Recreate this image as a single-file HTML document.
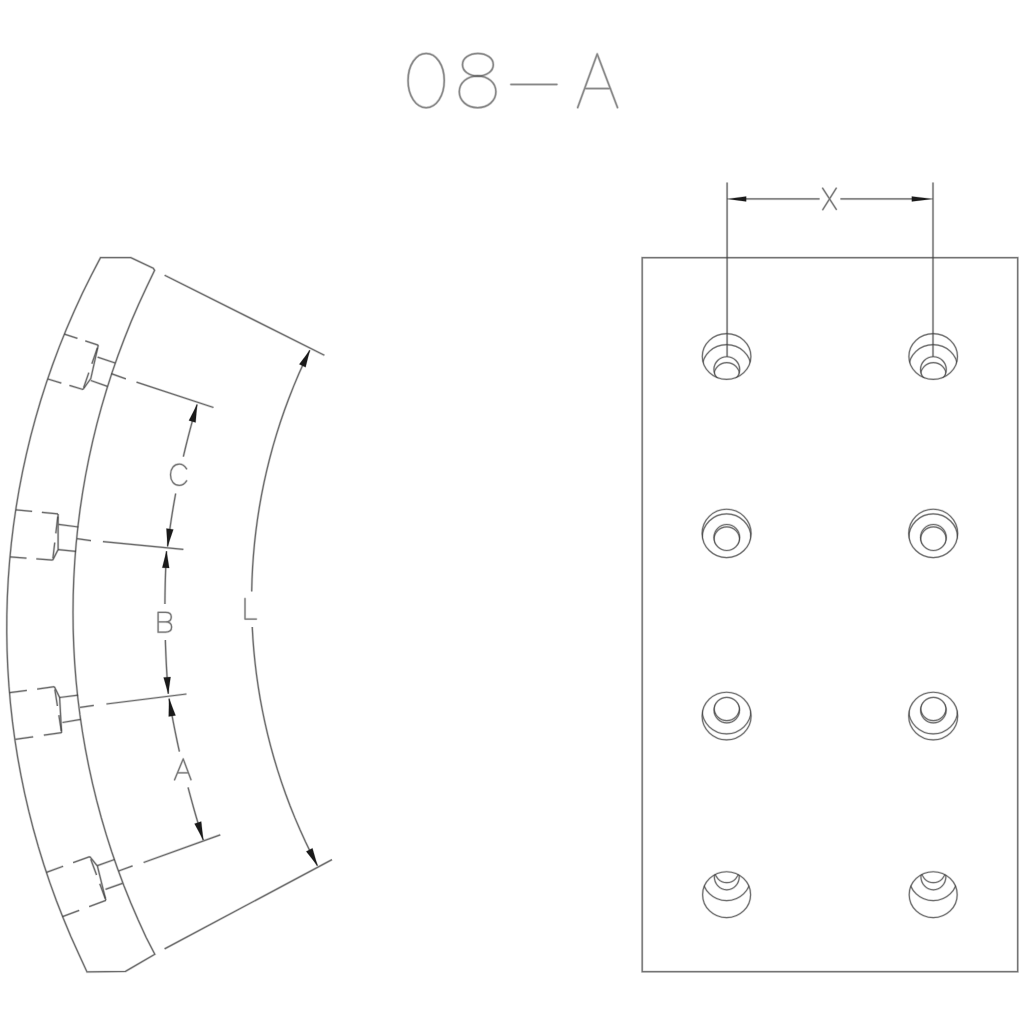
<!DOCTYPE html>
<html><head><meta charset="utf-8"><title>08-A</title>
<style>
html,body{margin:0;padding:0;background:#fff;font-family:"Liberation Sans",sans-serif;}
svg{display:block;}
</style></head>
<body>
<svg width="1024" height="1024" viewBox="0 0 1024 1024">
<rect x="0" y="0" width="1024" height="1024" fill="#ffffff" stroke="none"/>
<g fill="none" stroke="#4a4a4a" stroke-opacity="0.2" stroke-width="2.8" stroke-linecap="round" stroke-linejoin="round">
<path d="M408.05,80.55 C408.05,65.24 415.92,53.45 426.15,53.45 C436.38,53.45 444.25,65.24 444.25,80.55 C444.25,95.86 436.38,107.65 426.15,107.65 C415.92,107.65 408.05,95.86 408.05,80.55 Z"/>
<path d="M462.50,64.70 C462.50,58.26 469.12,53.40 477.90,53.40 C486.68,53.40 493.30,58.26 493.30,64.70 C493.30,71.14 486.68,76.00 477.90,76.00 C469.12,76.00 462.50,71.14 462.50,64.70 Z"/>
<path d="M459.30,91.85 C459.30,82.82 467.17,76.00 477.60,76.00 C488.03,76.00 495.90,82.82 495.90,91.85 C495.90,100.88 488.03,107.70 477.60,107.70 C467.17,107.70 459.30,100.88 459.30,91.85 Z"/>
<path d="M511.0,84.4 H556.8"/>
<path d="M577.7,107.6 L597.2,53.9 L617.5,107.6 M584.6,88.6 H610.5"/>
</g>
<g fill="none" stroke="#4a4a4a" stroke-opacity="0.58" stroke-width="1.5" stroke-linecap="round" stroke-linejoin="round">
<path d="M408.05,80.55 C408.05,65.24 415.92,53.45 426.15,53.45 C436.38,53.45 444.25,65.24 444.25,80.55 C444.25,95.86 436.38,107.65 426.15,107.65 C415.92,107.65 408.05,95.86 408.05,80.55 Z"/>
<path d="M462.50,64.70 C462.50,58.26 469.12,53.40 477.90,53.40 C486.68,53.40 493.30,58.26 493.30,64.70 C493.30,71.14 486.68,76.00 477.90,76.00 C469.12,76.00 462.50,71.14 462.50,64.70 Z"/>
<path d="M459.30,91.85 C459.30,82.82 467.17,76.00 477.60,76.00 C488.03,76.00 495.90,82.82 495.90,91.85 C495.90,100.88 488.03,107.70 477.60,107.70 C467.17,107.70 459.30,100.88 459.30,91.85 Z"/>
<path d="M511.0,84.4 H556.8"/>
<path d="M577.7,107.6 L597.2,53.9 L617.5,107.6 M584.6,88.6 H610.5"/>
</g>
<g fill="none" stroke="#404040" stroke-opacity="0.2" stroke-width="2.5" stroke-linecap="butt" stroke-linejoin="miter">
<path d="M100.50,257.60 L130.80,257.60 L153.30,268.30 L154.60,270.30 L146.41,287.40 L138.54,304.50 L131.17,321.60 L124.30,338.70 L117.90,355.80 L111.96,372.90 L106.48,390.00 L101.44,407.10 L96.83,424.20 L92.65,441.30 L88.89,458.40 L85.54,475.50 L82.59,492.60 L80.04,509.70 L77.89,526.80 L76.14,543.90 L74.78,561.00 L73.80,578.10 L73.21,595.20 L73.01,612.30 L73.19,629.40 L73.77,646.50 L74.72,663.60 L76.07,680.70 L77.81,697.80 L79.94,714.90 L82.47,732.00 L85.40,749.10 L88.73,766.20 L92.48,783.30 L96.64,800.40 L101.23,817.50 L106.25,834.60 L111.71,851.70 L117.62,868.80 L124.00,885.90 L130.85,903.00 L138.20,920.10 L146.05,937.20 L154.80,954.30 L125.50,971.40 L87.00,971.90 L78.76,954.04 L70.75,936.18 L63.27,918.33 L56.31,900.47 L49.85,882.61 L43.88,864.75 L38.38,846.90 L33.35,829.04 L28.78,811.18 L24.65,793.33 L20.97,775.47 L17.71,757.61 L14.89,739.75 L12.49,721.89 L10.52,704.04 L8.96,686.18 L7.81,668.32 L7.08,650.46 L6.76,632.61 L6.85,614.75 L7.35,596.89 L8.26,579.04 L9.58,561.18 L11.33,543.32 L13.49,525.46 L16.07,507.61 L19.07,489.75 L22.51,471.89 L26.39,454.03 L30.71,436.18 L35.48,418.32 L40.71,400.46 L46.41,382.60 L52.60,364.75 L59.27,346.89 L66.46,329.03 L74.16,311.17 L82.41,293.31 L91.21,275.46 L100.50,257.60 Z"/>
<path d="M164.6,275.2 L324.4,355.3"/>
<path d="M164.6,948.9 L332,859.6"/>
<path d="M309.80,350.20 L304.05,362.26 L298.64,374.32 L293.57,386.38 L288.82,398.44 L284.38,410.50 L280.24,422.56 L276.41,434.62 L272.87,446.68 L269.62,458.74 L266.65,470.80 L263.95,482.86 L261.53,494.92 L259.39,506.98 L257.50,519.04 L255.89,531.10 L254.53,543.16 L253.44,555.22 L252.60,567.28 L252.02,579.34 L251.70,591.40"/>
<path d="M252.25,627.00 L252.93,638.93 L253.87,650.86 L255.06,662.79 L256.51,674.72 L258.21,686.65 L260.17,698.58 L262.40,710.51 L264.89,722.44 L267.65,734.37 L270.69,746.30 L274.00,758.23 L277.59,770.16 L281.48,782.09 L285.65,794.02 L290.13,805.95 L294.92,817.88 L300.03,829.81 L305.47,841.74 L311.24,853.67 L317.37,865.60"/>
<path d="M197.10,404.50 L195.57,409.72 L194.08,414.94 L192.62,420.16 L191.19,425.38 L189.79,430.60 L188.43,435.82 L187.11,441.04 L185.82,446.26 L184.56,451.48 L183.33,456.70"/>
<path d="M175.67,493.50 L174.70,498.79 L173.77,504.08 L172.88,509.37 L172.02,514.66 L171.20,519.95 L170.41,525.24 L169.65,530.53 L168.93,535.82 L168.25,541.11 L167.60,546.40"/>
<path d="M166.50,551.30 L166.23,556.58 L165.98,561.86 L165.76,567.14 L165.56,572.42 L165.39,577.70 L165.24,582.98 L165.13,588.26 L165.03,593.54 L164.97,598.82 L164.93,604.10"/>
<path d="M165.36,640.10 L165.53,645.47 L165.73,650.84 L165.95,656.21 L166.20,661.58 L166.48,666.95 L166.79,672.32 L167.12,677.69 L167.48,683.06 L167.87,688.43 L168.28,693.80"/>
<path d="M169.06,698.60 L169.96,703.90 L170.90,709.20 L171.86,714.50 L172.85,719.80 L173.87,725.10 L174.92,730.40 L175.99,735.70 L177.10,741.00 L178.24,746.30 L179.41,751.60"/>
<path d="M188.06,787.40 L189.45,792.67 L190.87,797.94 L192.31,803.21 L193.79,808.48 L195.29,813.75 L196.83,819.02 L198.39,824.29 L199.98,829.56 L201.60,834.83 L203.25,840.10"/>
<path d="M64.4,334.1 L98.3,345.2" stroke-dasharray="13.73 8.20"/>
<path d="M47.8,379 L83,389.5" stroke-dasharray="14.14 8.45"/>
<path d="M98.30,345.20 L90.80,378.60 L83.00,389.50"/>
<path d="M98.3,345.2 L83,389.5" stroke-dasharray="0 2.81 16.87 9.37 15.94 46.87"/>
<path d="M97.60,357.10 L115.20,363.00"/>
<path d="M90.80,380.50 L107.40,386.40"/>
<path d="M111.3,373.7 L125.9,378.9 M136.5,382.1 L213.5,407.5"/>
<path d="M15.9,509.8 L58.1,513.9" stroke-dasharray="16.32 9.75"/>
<path d="M10.1,556.9 L52.7,560.1" stroke-dasharray="16.45 9.83"/>
<path d="M58.10,513.90 L58.10,549.60 L52.70,560.10"/>
<path d="M58.1,513.9 L52.7,560.1" stroke-dasharray="0 2.79 16.75 9.30 15.81 46.51"/>
<path d="M58.60,524.40 L78.40,527.00"/>
<path d="M58.10,549.60 L76.00,551.40"/>
<path d="M77.1,538.7 L91.0,540.7 M102.9,541.6 L183.4,549.4"/>
<path d="M9.6,692.7 L54.4,686.7" stroke-dasharray="17.40 10.40"/>
<path d="M15.4,739.3 L61.6,732.7" stroke-dasharray="17.97 10.73"/>
<path d="M54.40,686.70 L59.60,697.50 L61.60,732.70"/>
<path d="M54.4,686.7 L61.6,732.7" stroke-dasharray="0 2.79 16.76 9.31 15.83 46.56"/>
<path d="M59.60,697.50 L78.10,695.20"/>
<path d="M62.50,722.50 L80.70,719.40"/>
<path d="M80.1,707.4 L93.8,705.4 M106.4,704 L186.5,694"/>
<path d="M46.5,872.3 L89.8,856.6" stroke-dasharray="17.73 10.59"/>
<path d="M62.5,916.7 L105.9,900.3" stroke-dasharray="17.86 10.67"/>
<path d="M89.80,856.60 L97.40,866.00 L105.90,900.30"/>
<path d="M89.8,856.6 L105.9,900.3" stroke-dasharray="0 2.79 16.77 9.31 15.83 46.57"/>
<path d="M97.40,865.70 L114.50,859.50"/>
<path d="M105.50,889.30 L122.50,883.30"/>
<path d="M118.6,871.0 L132.6,865.8 M143.6,862.5 L220.3,834.8"/>
<rect x="642.2" y="257.7" width="375.5" height="714.0"/>
<path d="M727.1,182.6 V356.7 M933,182.6 V356.7"/>
<path d="M746,198.9 H819.6 M840.4,198.9 H912"/>
</g>
<g fill="none" stroke="#404040" stroke-opacity="0.71" stroke-width="1.25" stroke-linecap="butt" stroke-linejoin="miter">
<path d="M100.50,257.60 L130.80,257.60 L153.30,268.30 L154.60,270.30 L146.41,287.40 L138.54,304.50 L131.17,321.60 L124.30,338.70 L117.90,355.80 L111.96,372.90 L106.48,390.00 L101.44,407.10 L96.83,424.20 L92.65,441.30 L88.89,458.40 L85.54,475.50 L82.59,492.60 L80.04,509.70 L77.89,526.80 L76.14,543.90 L74.78,561.00 L73.80,578.10 L73.21,595.20 L73.01,612.30 L73.19,629.40 L73.77,646.50 L74.72,663.60 L76.07,680.70 L77.81,697.80 L79.94,714.90 L82.47,732.00 L85.40,749.10 L88.73,766.20 L92.48,783.30 L96.64,800.40 L101.23,817.50 L106.25,834.60 L111.71,851.70 L117.62,868.80 L124.00,885.90 L130.85,903.00 L138.20,920.10 L146.05,937.20 L154.80,954.30 L125.50,971.40 L87.00,971.90 L78.76,954.04 L70.75,936.18 L63.27,918.33 L56.31,900.47 L49.85,882.61 L43.88,864.75 L38.38,846.90 L33.35,829.04 L28.78,811.18 L24.65,793.33 L20.97,775.47 L17.71,757.61 L14.89,739.75 L12.49,721.89 L10.52,704.04 L8.96,686.18 L7.81,668.32 L7.08,650.46 L6.76,632.61 L6.85,614.75 L7.35,596.89 L8.26,579.04 L9.58,561.18 L11.33,543.32 L13.49,525.46 L16.07,507.61 L19.07,489.75 L22.51,471.89 L26.39,454.03 L30.71,436.18 L35.48,418.32 L40.71,400.46 L46.41,382.60 L52.60,364.75 L59.27,346.89 L66.46,329.03 L74.16,311.17 L82.41,293.31 L91.21,275.46 L100.50,257.60 Z"/>
<path d="M164.6,275.2 L324.4,355.3"/>
<path d="M164.6,948.9 L332,859.6"/>
<path d="M309.80,350.20 L304.05,362.26 L298.64,374.32 L293.57,386.38 L288.82,398.44 L284.38,410.50 L280.24,422.56 L276.41,434.62 L272.87,446.68 L269.62,458.74 L266.65,470.80 L263.95,482.86 L261.53,494.92 L259.39,506.98 L257.50,519.04 L255.89,531.10 L254.53,543.16 L253.44,555.22 L252.60,567.28 L252.02,579.34 L251.70,591.40"/>
<path d="M252.25,627.00 L252.93,638.93 L253.87,650.86 L255.06,662.79 L256.51,674.72 L258.21,686.65 L260.17,698.58 L262.40,710.51 L264.89,722.44 L267.65,734.37 L270.69,746.30 L274.00,758.23 L277.59,770.16 L281.48,782.09 L285.65,794.02 L290.13,805.95 L294.92,817.88 L300.03,829.81 L305.47,841.74 L311.24,853.67 L317.37,865.60"/>
<path d="M197.10,404.50 L195.57,409.72 L194.08,414.94 L192.62,420.16 L191.19,425.38 L189.79,430.60 L188.43,435.82 L187.11,441.04 L185.82,446.26 L184.56,451.48 L183.33,456.70"/>
<path d="M175.67,493.50 L174.70,498.79 L173.77,504.08 L172.88,509.37 L172.02,514.66 L171.20,519.95 L170.41,525.24 L169.65,530.53 L168.93,535.82 L168.25,541.11 L167.60,546.40"/>
<path d="M166.50,551.30 L166.23,556.58 L165.98,561.86 L165.76,567.14 L165.56,572.42 L165.39,577.70 L165.24,582.98 L165.13,588.26 L165.03,593.54 L164.97,598.82 L164.93,604.10"/>
<path d="M165.36,640.10 L165.53,645.47 L165.73,650.84 L165.95,656.21 L166.20,661.58 L166.48,666.95 L166.79,672.32 L167.12,677.69 L167.48,683.06 L167.87,688.43 L168.28,693.80"/>
<path d="M169.06,698.60 L169.96,703.90 L170.90,709.20 L171.86,714.50 L172.85,719.80 L173.87,725.10 L174.92,730.40 L175.99,735.70 L177.10,741.00 L178.24,746.30 L179.41,751.60"/>
<path d="M188.06,787.40 L189.45,792.67 L190.87,797.94 L192.31,803.21 L193.79,808.48 L195.29,813.75 L196.83,819.02 L198.39,824.29 L199.98,829.56 L201.60,834.83 L203.25,840.10"/>
<path d="M64.4,334.1 L98.3,345.2" stroke-dasharray="13.73 8.20"/>
<path d="M47.8,379 L83,389.5" stroke-dasharray="14.14 8.45"/>
<path d="M98.30,345.20 L90.80,378.60 L83.00,389.50"/>
<path d="M98.3,345.2 L83,389.5" stroke-dasharray="0 2.81 16.87 9.37 15.94 46.87"/>
<path d="M97.60,357.10 L115.20,363.00"/>
<path d="M90.80,380.50 L107.40,386.40"/>
<path d="M111.3,373.7 L125.9,378.9 M136.5,382.1 L213.5,407.5"/>
<path d="M15.9,509.8 L58.1,513.9" stroke-dasharray="16.32 9.75"/>
<path d="M10.1,556.9 L52.7,560.1" stroke-dasharray="16.45 9.83"/>
<path d="M58.10,513.90 L58.10,549.60 L52.70,560.10"/>
<path d="M58.1,513.9 L52.7,560.1" stroke-dasharray="0 2.79 16.75 9.30 15.81 46.51"/>
<path d="M58.60,524.40 L78.40,527.00"/>
<path d="M58.10,549.60 L76.00,551.40"/>
<path d="M77.1,538.7 L91.0,540.7 M102.9,541.6 L183.4,549.4"/>
<path d="M9.6,692.7 L54.4,686.7" stroke-dasharray="17.40 10.40"/>
<path d="M15.4,739.3 L61.6,732.7" stroke-dasharray="17.97 10.73"/>
<path d="M54.40,686.70 L59.60,697.50 L61.60,732.70"/>
<path d="M54.4,686.7 L61.6,732.7" stroke-dasharray="0 2.79 16.76 9.31 15.83 46.56"/>
<path d="M59.60,697.50 L78.10,695.20"/>
<path d="M62.50,722.50 L80.70,719.40"/>
<path d="M80.1,707.4 L93.8,705.4 M106.4,704 L186.5,694"/>
<path d="M46.5,872.3 L89.8,856.6" stroke-dasharray="17.73 10.59"/>
<path d="M62.5,916.7 L105.9,900.3" stroke-dasharray="17.86 10.67"/>
<path d="M89.80,856.60 L97.40,866.00 L105.90,900.30"/>
<path d="M89.8,856.6 L105.9,900.3" stroke-dasharray="0 2.79 16.77 9.31 15.83 46.57"/>
<path d="M97.40,865.70 L114.50,859.50"/>
<path d="M105.50,889.30 L122.50,883.30"/>
<path d="M118.6,871.0 L132.6,865.8 M143.6,862.5 L220.3,834.8"/>
<rect x="642.2" y="257.7" width="375.5" height="714.0"/>
<path d="M727.1,182.6 V356.7 M933,182.6 V356.7"/>
<path d="M746,198.9 H819.6 M840.4,198.9 H912"/>
</g>
<g fill="none" stroke="#404040" stroke-opacity="0.18" stroke-width="2.5" stroke-linecap="round" stroke-linejoin="round">
<path d="M186.6,468.8 C184.5,465.6 182,464.1 179.3,464.1 C174,464.1 170.5,468.6 170.5,474.8 C170.5,481 174,485.4 179.3,485.4 C182,485.4 184.5,484 186.6,480.8"/>
<path d="M158.1,612.3 V632.2 M158.1,612.3 H165.6 C169.5,612.3 171.3,614.3 171.3,617 C171.3,619.8 169.5,621.9 165.6,621.9 H158.1 M165.6,621.9 C169.7,621.9 171.6,624.2 171.6,627.1 C171.6,630 169.7,632.2 165.6,632.2 H158.1"/>
<path d="M174.6,779.8 L183.2,758.9 L191,779.7 M178.1,772.8 H188.4"/>
<path d="M245,598.5 V619 H256.3"/>
<path d="M822.6,188.2 L836.3,209.4 M836.3,188.2 L822.8,209.6"/>
</g>
<g fill="none" stroke="#404040" stroke-opacity="0.66" stroke-width="1.25" stroke-linecap="round" stroke-linejoin="round">
<path d="M186.6,468.8 C184.5,465.6 182,464.1 179.3,464.1 C174,464.1 170.5,468.6 170.5,474.8 C170.5,481 174,485.4 179.3,485.4 C182,485.4 184.5,484 186.6,480.8"/>
<path d="M158.1,612.3 V632.2 M158.1,612.3 H165.6 C169.5,612.3 171.3,614.3 171.3,617 C171.3,619.8 169.5,621.9 165.6,621.9 H158.1 M165.6,621.9 C169.7,621.9 171.6,624.2 171.6,627.1 C171.6,630 169.7,632.2 165.6,632.2 H158.1"/>
<path d="M174.6,779.8 L183.2,758.9 L191,779.7 M178.1,772.8 H188.4"/>
<path d="M245,598.5 V619 H256.3"/>
<path d="M822.6,188.2 L836.3,209.4 M836.3,188.2 L822.8,209.6"/>
</g>
<g fill="#1a1a1a" stroke="#1a1a1a" stroke-opacity="0.25" stroke-width="0.8" stroke-linejoin="round">
<path d="M197.10,404.50 L195.61,422.46 L188.88,420.54 Z"/>
<path d="M167.57,546.60 L166.40,528.55 L173.34,529.45 Z"/>
<path d="M166.51,551.10 L169.22,568.06 L162.23,567.74 Z"/>
<path d="M168.28,693.80 L163.60,677.45 L170.58,676.95 Z"/>
<path d="M169.06,698.60 L175.58,715.39 L168.69,716.61 Z"/>
<path d="M203.25,840.10 L194.54,823.63 L201.23,821.57 Z"/>
<path d="M309.80,350.20 L305.59,367.30 L299.27,364.30 Z"/>
<path d="M317.48,865.80 L306.21,851.39 L312.45,848.21 Z"/>
<path d="M727.10,198.90 L746.20,196.40 L746.20,201.40 Z"/>
<path d="M933.00,198.90 L911.80,201.40 L911.80,196.40 Z"/>
</g>
<defs>
<clipPath id="o0"><ellipse cx="726.6" cy="356.5" rx="24.6" ry="23.150000000000002"/></clipPath>
<clipPath id="i0"><ellipse cx="726.8000000000001" cy="369.6" rx="13.200000000000001" ry="13.200000000000001"/></clipPath>
<clipPath id="o1"><ellipse cx="726.6" cy="533.4" rx="24.8" ry="24.5"/></clipPath>
<clipPath id="i1"><ellipse cx="726.8000000000001" cy="537.5" rx="13.200000000000001" ry="13.3"/></clipPath>
<clipPath id="o2"><ellipse cx="726.6" cy="716.0" rx="24.8" ry="24.1"/></clipPath>
<clipPath id="i2"><ellipse cx="726.8000000000001" cy="710.1" rx="13.100000000000001" ry="13.100000000000001"/></clipPath>
<clipPath id="o3"><ellipse cx="726.6" cy="894.65" rx="24.3" ry="23.25"/></clipPath>
<clipPath id="i3"><ellipse cx="726.8000000000001" cy="876.5" rx="12.8" ry="13.700000000000001"/></clipPath>
<clipPath id="o4"><ellipse cx="933.2" cy="356.5" rx="24.6" ry="23.150000000000002"/></clipPath>
<clipPath id="i4"><ellipse cx="933.4000000000001" cy="369.6" rx="13.200000000000001" ry="13.200000000000001"/></clipPath>
<clipPath id="o5"><ellipse cx="933.2" cy="533.4" rx="24.8" ry="24.5"/></clipPath>
<clipPath id="i5"><ellipse cx="933.4000000000001" cy="537.5" rx="13.200000000000001" ry="13.3"/></clipPath>
<clipPath id="o6"><ellipse cx="933.2" cy="716.0" rx="24.8" ry="24.1"/></clipPath>
<clipPath id="i6"><ellipse cx="933.4000000000001" cy="710.1" rx="13.100000000000001" ry="13.100000000000001"/></clipPath>
<clipPath id="o7"><ellipse cx="933.2" cy="894.65" rx="24.3" ry="23.25"/></clipPath>
<clipPath id="i7"><ellipse cx="933.4000000000001" cy="876.5" rx="12.8" ry="13.700000000000001"/></clipPath>
</defs>
<g fill="none" stroke="#404040" stroke-opacity="0.18" stroke-width="2.3" stroke-linecap="butt" stroke-linejoin="miter">
<ellipse cx="726.6" cy="356.5" rx="24.3" ry="22.85"/>
<ellipse cx="726.6" cy="367.5" rx="24.3" ry="22.85" clip-path="url(#o0)"/>
<g clip-path="url(#o0)"><ellipse cx="726.8000000000001" cy="369.6" rx="12.9" ry="12.9"/>
<ellipse cx="726.8000000000001" cy="375.5" rx="12.9" ry="12.9" clip-path="url(#i0)"/></g>
<ellipse cx="726.6" cy="533.4" rx="24.5" ry="24.2"/>
<ellipse cx="726.6" cy="538.1" rx="24.5" ry="24.2" clip-path="url(#o1)"/>
<g clip-path="url(#o1)"><ellipse cx="726.8000000000001" cy="537.5" rx="12.9" ry="13.0"/>
<ellipse cx="726.8000000000001" cy="539.8" rx="12.9" ry="13.0" clip-path="url(#i1)"/></g>
<ellipse cx="726.6" cy="716.0" rx="24.5" ry="23.8"/>
<ellipse cx="726.6" cy="710.0" rx="24.5" ry="23.8" clip-path="url(#o2)"/>
<g clip-path="url(#o2)"><ellipse cx="726.8000000000001" cy="710.1" rx="12.8" ry="12.8"/>
<ellipse cx="726.8000000000001" cy="707.8000000000001" rx="12.8" ry="12.8" clip-path="url(#i2)"/></g>
<ellipse cx="726.6" cy="894.65" rx="24.0" ry="22.95"/>
<ellipse cx="726.6" cy="877.65" rx="24.0" ry="22.95" clip-path="url(#o3)"/>
<g clip-path="url(#o3)"><ellipse cx="726.8000000000001" cy="876.5" rx="12.5" ry="13.4"/>
<ellipse cx="726.8000000000001" cy="869.3" rx="12.5" ry="13.4" clip-path="url(#i3)"/></g>
<ellipse cx="933.2" cy="356.5" rx="24.3" ry="22.85"/>
<ellipse cx="933.2" cy="367.5" rx="24.3" ry="22.85" clip-path="url(#o4)"/>
<g clip-path="url(#o4)"><ellipse cx="933.4000000000001" cy="369.6" rx="12.9" ry="12.9"/>
<ellipse cx="933.4000000000001" cy="375.5" rx="12.9" ry="12.9" clip-path="url(#i4)"/></g>
<ellipse cx="933.2" cy="533.4" rx="24.5" ry="24.2"/>
<ellipse cx="933.2" cy="538.1" rx="24.5" ry="24.2" clip-path="url(#o5)"/>
<g clip-path="url(#o5)"><ellipse cx="933.4000000000001" cy="537.5" rx="12.9" ry="13.0"/>
<ellipse cx="933.4000000000001" cy="539.8" rx="12.9" ry="13.0" clip-path="url(#i5)"/></g>
<ellipse cx="933.2" cy="716.0" rx="24.5" ry="23.8"/>
<ellipse cx="933.2" cy="710.0" rx="24.5" ry="23.8" clip-path="url(#o6)"/>
<g clip-path="url(#o6)"><ellipse cx="933.4000000000001" cy="710.1" rx="12.8" ry="12.8"/>
<ellipse cx="933.4000000000001" cy="707.8000000000001" rx="12.8" ry="12.8" clip-path="url(#i6)"/></g>
<ellipse cx="933.2" cy="894.65" rx="24.0" ry="22.95"/>
<ellipse cx="933.2" cy="877.65" rx="24.0" ry="22.95" clip-path="url(#o7)"/>
<g clip-path="url(#o7)"><ellipse cx="933.4000000000001" cy="876.5" rx="12.5" ry="13.4"/>
<ellipse cx="933.4000000000001" cy="869.3" rx="12.5" ry="13.4" clip-path="url(#i7)"/></g>
</g>
<g fill="none" stroke="#404040" stroke-opacity="0.7" stroke-width="1.15" stroke-linecap="butt" stroke-linejoin="miter">
<ellipse cx="726.6" cy="356.5" rx="24.3" ry="22.85"/>
<ellipse cx="726.6" cy="367.5" rx="24.3" ry="22.85" clip-path="url(#o0)"/>
<g clip-path="url(#o0)"><ellipse cx="726.8000000000001" cy="369.6" rx="12.9" ry="12.9"/>
<ellipse cx="726.8000000000001" cy="375.5" rx="12.9" ry="12.9" clip-path="url(#i0)"/></g>
<ellipse cx="726.6" cy="533.4" rx="24.5" ry="24.2"/>
<ellipse cx="726.6" cy="538.1" rx="24.5" ry="24.2" clip-path="url(#o1)"/>
<g clip-path="url(#o1)"><ellipse cx="726.8000000000001" cy="537.5" rx="12.9" ry="13.0"/>
<ellipse cx="726.8000000000001" cy="539.8" rx="12.9" ry="13.0" clip-path="url(#i1)"/></g>
<ellipse cx="726.6" cy="716.0" rx="24.5" ry="23.8"/>
<ellipse cx="726.6" cy="710.0" rx="24.5" ry="23.8" clip-path="url(#o2)"/>
<g clip-path="url(#o2)"><ellipse cx="726.8000000000001" cy="710.1" rx="12.8" ry="12.8"/>
<ellipse cx="726.8000000000001" cy="707.8000000000001" rx="12.8" ry="12.8" clip-path="url(#i2)"/></g>
<ellipse cx="726.6" cy="894.65" rx="24.0" ry="22.95"/>
<ellipse cx="726.6" cy="877.65" rx="24.0" ry="22.95" clip-path="url(#o3)"/>
<g clip-path="url(#o3)"><ellipse cx="726.8000000000001" cy="876.5" rx="12.5" ry="13.4"/>
<ellipse cx="726.8000000000001" cy="869.3" rx="12.5" ry="13.4" clip-path="url(#i3)"/></g>
<ellipse cx="933.2" cy="356.5" rx="24.3" ry="22.85"/>
<ellipse cx="933.2" cy="367.5" rx="24.3" ry="22.85" clip-path="url(#o4)"/>
<g clip-path="url(#o4)"><ellipse cx="933.4000000000001" cy="369.6" rx="12.9" ry="12.9"/>
<ellipse cx="933.4000000000001" cy="375.5" rx="12.9" ry="12.9" clip-path="url(#i4)"/></g>
<ellipse cx="933.2" cy="533.4" rx="24.5" ry="24.2"/>
<ellipse cx="933.2" cy="538.1" rx="24.5" ry="24.2" clip-path="url(#o5)"/>
<g clip-path="url(#o5)"><ellipse cx="933.4000000000001" cy="537.5" rx="12.9" ry="13.0"/>
<ellipse cx="933.4000000000001" cy="539.8" rx="12.9" ry="13.0" clip-path="url(#i5)"/></g>
<ellipse cx="933.2" cy="716.0" rx="24.5" ry="23.8"/>
<ellipse cx="933.2" cy="710.0" rx="24.5" ry="23.8" clip-path="url(#o6)"/>
<g clip-path="url(#o6)"><ellipse cx="933.4000000000001" cy="710.1" rx="12.8" ry="12.8"/>
<ellipse cx="933.4000000000001" cy="707.8000000000001" rx="12.8" ry="12.8" clip-path="url(#i6)"/></g>
<ellipse cx="933.2" cy="894.65" rx="24.0" ry="22.95"/>
<ellipse cx="933.2" cy="877.65" rx="24.0" ry="22.95" clip-path="url(#o7)"/>
<g clip-path="url(#o7)"><ellipse cx="933.4000000000001" cy="876.5" rx="12.5" ry="13.4"/>
<ellipse cx="933.4000000000001" cy="869.3" rx="12.5" ry="13.4" clip-path="url(#i7)"/></g>
</g>
</svg>
</body></html>
